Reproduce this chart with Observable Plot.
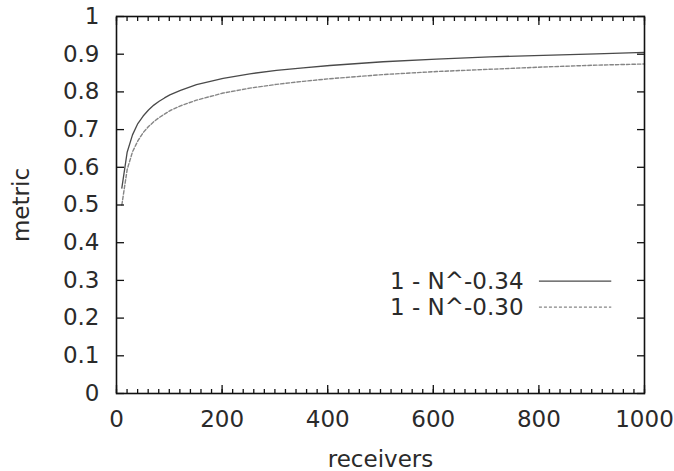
<!DOCTYPE html>
<html><head><meta charset="utf-8">
<script src="https://cdn.jsdelivr.net/npm/d3@7"></script>
<script src="https://cdn.jsdelivr.net/npm/@observablehq/plot@0.6"></script>
<style>body{margin:0;background:#fff} svg{display:block}</style>
</head><body><div id="chart"></div>
<script>
// Values
const receivers = [10.1, 20.2, 30.3, 40.4, 50.5, 60.6, 70.7, 80.8, 90.9, 101, 121.2, 151.5, 202, 252.5, 303, 353.5, 404, 505, 606, 707, 808, 909, 1000];
const metricA = [0.545, 0.640, 0.686, 0.716, 0.736, 0.752, 0.765, 0.775, 0.784, 0.792, 0.804, 0.819, 0.836, 0.848, 0.857, 0.864, 0.870, 0.880, 0.887, 0.893, 0.897, 0.901, 0.905];
const metricB = [0.500, 0.594, 0.641, 0.670, 0.692, 0.708, 0.721, 0.732, 0.741, 0.750, 0.763, 0.778, 0.797, 0.810, 0.820, 0.828, 0.835, 0.846, 0.854, 0.860, 0.866, 0.871, 0.874];
const seriesNames = ["1 - N^-0.34", "1 - N^-0.30"];
const xTicks = [0, 200, 400, 600, 800, 1000];
const xMinorTicks = d3.range(0, 1001, 20);
const yTicks = [0, 0.1, 0.2, 0.3, 0.4, 0.5, 0.6, 0.7, 0.8, 0.9, 1];
const yTickLabels = ["0", "0.1", "0.2", "0.3", "0.4", "0.5", "0.6", "0.7", "0.8", "0.9", "1"];
const xLabel = "receivers";
const yLabel = "metric";

const rowsA = receivers.map((n, i) => ({n, v: metricA[i]}));
const rowsB = receivers.map((n, i) => ({n, v: metricB[i]}));

// legend layout (in plot units)
const legendTextX = 771, legendLineX1 = 801, legendLineX2 = 938;
const legendY = [0.298, 0.229];

const ink = "#111";
const txt = "#2a2a2a";
const colA = "#4a4a4a", colB = "#858585";

const chart = Plot.plot({
  width: 674, height: 471,
  marginLeft: 116, marginRight: 30, marginTop: 16, marginBottom: 78,
  style: {fontFamily: "DejaVu Sans", fontSize: "23px", color: txt, background: "#fff"},
  x: {domain: [0, 1000]},
  y: {domain: [0, 1]},
  marks: [
    // curves
    Plot.line(rowsA, {x: "n", y: "v", stroke: colA, strokeWidth: 1.3}),
    Plot.line(rowsB, {x: "n", y: "v", stroke: colB, strokeWidth: 1.4, strokeDasharray: "3.5,2"}),
    // legend
    Plot.text([seriesNames[0]], {x: () => legendTextX, y: () => legendY[0], text: d => d, textAnchor: "end", fill: txt}),
    Plot.text([seriesNames[1]], {x: () => legendTextX, y: () => legendY[1], text: d => d, textAnchor: "end", fill: txt}),
    Plot.ruleY([legendY[0]], {x1: legendLineX1, x2: legendLineX2, stroke: colA, strokeWidth: 1.2}),
    Plot.ruleY([legendY[1]], {x1: legendLineX1, x2: legendLineX2, stroke: colB, strokeWidth: 1.2, strokeDasharray: "3,2"}),
    // inward ticks
    Plot.axisX(xMinorTicks, {anchor: "bottom", tickSize: -4, tickFormat: () => "", label: null, stroke: ink, strokeWidth: 1.3}),
    Plot.axisX(xMinorTicks, {anchor: "top", tickSize: -4, tickFormat: () => "", label: null, stroke: ink, strokeWidth: 1.3}),
    Plot.axisX(xTicks, {anchor: "bottom", tickSize: -8, tickFormat: () => "", label: null, stroke: ink, strokeWidth: 1.3}),
    Plot.axisX(xTicks, {anchor: "top", tickSize: -8, tickFormat: () => "", label: null, stroke: ink, strokeWidth: 1.3}),
    Plot.axisY(yTicks, {anchor: "left", tickSize: -8, tickFormat: () => "", label: null, stroke: ink, strokeWidth: 1.3}),
    Plot.axisY(yTicks, {anchor: "right", tickSize: -8, tickFormat: () => "", label: null, stroke: ink, strokeWidth: 1.3}),
    // tick labels
    Plot.axisX(xTicks, {anchor: "bottom", tickSize: 0, tickPadding: 17, label: null, tickFormat: d => String(d), fill: txt}),
    Plot.axisY(yTicks, {anchor: "left", tickSize: 0, tickPadding: 17, label: null, tickFormat: d => yTickLabels[yTicks.indexOf(d)], fill: txt}),
    // axis titles
    Plot.text([xLabel], {frameAnchor: "bottom", text: d => d, lineAnchor: "middle", textAnchor: "middle", dy: 66, fill: txt}),
    Plot.text([yLabel], {frameAnchor: "left", text: d => d, rotate: -90, textAnchor: "middle", lineAnchor: "middle", dx: -95, fill: txt}),
    Plot.frame({stroke: ink, strokeWidth: 1.6})
  ]
});
document.getElementById("chart").append(chart);
</script>
</body></html>
